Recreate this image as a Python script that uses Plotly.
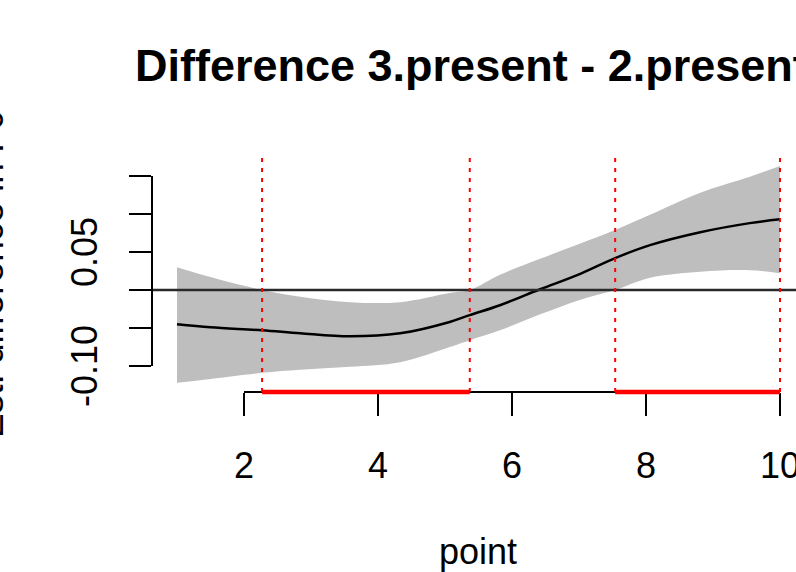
import plotly.graph_objects as go

# ---- data ----
x_pts = [1.0, 1.5, 2.27, 2.84, 3.58, 4.33, 5.07, 5.37, 5.82, 6.42, 7.01, 7.54, 8.06, 8.81, 9.55, 10.0]
mean_diff = [-0.045, -0.049, -0.053, -0.057, -0.061, -0.057, -0.042, -0.033, -0.020, 0.001, 0.021, 0.042, 0.059, 0.076, 0.088, 0.093]
upper_ci = [0.030, 0.017, 0.000, -0.009, -0.016, -0.016, -0.004, 0.000, 0.020, 0.041, 0.061, 0.079, 0.099, 0.128, 0.149, 0.163]
lower_ci = [-0.122, -0.117, -0.109, -0.105, -0.101, -0.095, -0.075, -0.066, -0.053, -0.032, -0.013, 0.000, 0.016, 0.024, 0.026, 0.022]

sig_start = [2.27, 7.54]
sig_end = [5.37, 10.0]

x_ticks = [2, 4, 6, 8, 10]
y_ticks = [-0.10, -0.05, 0.0, 0.05, 0.10, 0.15]
y_labels = {-0.10: "-0.10", 0.05: "0.05"}

title_text = "Difference 3.present - 2.present"
x_title = "point"
y_title = "Est. difference in F0"

FONT = "Liberation Sans, Arial, Helvetica, sans-serif"
W, H = 796, 572
ML, MR, MT, MB = 152, 0, 157, 180
PW = W - ML - MR
PH = H - MT - MB

def px_to_paper_x(px):
    return (px - ML) / PW

def px_to_paper_y(py):
    return (H - MB - py) / PH

fig = go.Figure()

# CI band
fig.add_trace(go.Scatter(x=x_pts, y=lower_ci, mode="lines", line=dict(width=0, color="#BEBEBE", shape="spline"),
                         hoverinfo="skip", showlegend=False))
fig.add_trace(go.Scatter(x=x_pts, y=upper_ci, mode="lines", line=dict(width=0, color="#BEBEBE", shape="spline"),
                         fill="tonexty", fillcolor="#BEBEBE", hoverinfo="skip", showlegend=False))
# mean line
fig.add_trace(go.Scatter(x=x_pts, y=mean_diff, mode="lines", line=dict(width=2.5, color="black", shape="spline"),
                         showlegend=False))

shapes = []
# zero line
shapes.append(dict(type="line", xref="paper", x0=0, x1=1, yref="y", y0=0, y1=0,
                   line=dict(color="#2a2a2a", width=2.5), layer="above"))
# y axis line
shapes.append(dict(type="line", xref="paper", x0=0, x1=0, yref="y", y0=min(y_ticks), y1=max(y_ticks),
                   line=dict(color="black", width=2), layer="above"))
# x axis line
shapes.append(dict(type="line", xref="x", x0=min(x_ticks), x1=max(x_ticks), yref="paper", y0=0, y1=0,
                   line=dict(color="black", width=2), layer="above"))
# significance markers
for s, e in zip(sig_start, sig_end):
    for v in (s, e):
        shapes.append(dict(type="line", xref="x", x0=v, x1=v, yref="paper", y0=0, y1=1,
                           line=dict(color="red", width=2, dash="4px,6px"), layer="above"))
    shapes.append(dict(type="line", xref="x", x0=s, x1=e, yref="paper", y0=0, y1=0,
                       line=dict(color="red", width=4.5), layer="above"))

annotations = []
for v, t in y_labels.items():
    annotations.append(dict(text=t, xref="paper", x=px_to_paper_x(84), yref="y", y=v,
                            textangle=-90, showarrow=False, xanchor="center", yanchor="middle",
                            font=dict(family=FONT, size=36, color="black")))
annotations.append(dict(text=title_text, xref="paper", x=px_to_paper_x(133), xanchor="left",
                        yref="paper", y=px_to_paper_y(65), yanchor="middle", showarrow=False,
                        font=dict(family=FONT, size=45, color="black", weight="bold")))
annotations.append(dict(text=x_title, xref="paper", x=px_to_paper_x(478), xanchor="center",
                        yref="paper", y=px_to_paper_y(551), yanchor="middle", showarrow=False,
                        font=dict(family=FONT, size=36, color="black")))
annotations.append(dict(text=y_title, xref="paper", x=px_to_paper_x(-10), xanchor="center",
                        yref="paper", y=px_to_paper_y(274), yanchor="middle", textangle=-90, showarrow=False,
                        font=dict(family=FONT, size=37, color="black")))

fig.update_layout(
    width=W, height=H,
    margin=dict(l=ML, r=MR, t=MT, b=MB, pad=0, autoexpand=False),
    paper_bgcolor="white", plot_bgcolor="white",
    showlegend=False,
    shapes=shapes, annotations=annotations,
    xaxis=dict(range=[0.627, 10.239], tickvals=x_ticks, ticktext=[str(v) for v in x_ticks],
               ticks="outside", ticklen=23, tickwidth=2, tickcolor="black", automargin=False,
               showline=False, showgrid=False, zeroline=False, ticklabeloverflow="allow",
               tickfont=dict(family=FONT, size=36, color="black"), ticklabelstandoff=19),
    yaxis=dict(range=[-0.1342, 0.175], tickvals=y_ticks, showticklabels=False, automargin=False,
               ticks="outside", ticklen=22, tickwidth=2, tickcolor="black",
               showline=False, showgrid=False, zeroline=False),
)

fig.write_html("out.html", config={"displayModeBar": False},
               post_script="document.body.style.margin='0px';document.body.style.overflow='hidden';")
